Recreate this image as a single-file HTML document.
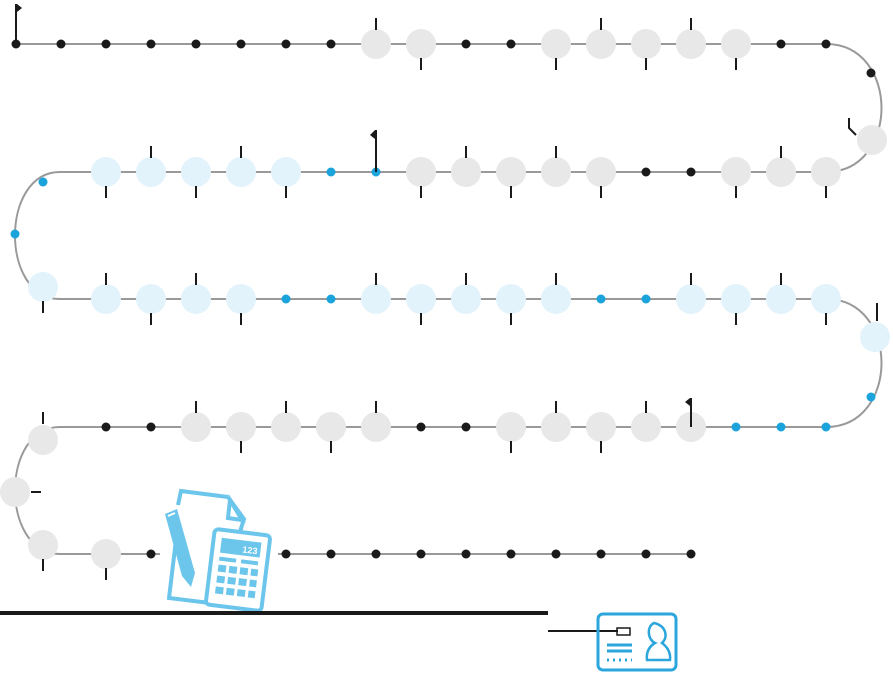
<!DOCTYPE html>
<html><head><style>body{margin:0;background:#fff}svg{display:block}</style></head><body>
<svg width="893" height="673" viewBox="0 0 893 673" xmlns="http://www.w3.org/2000/svg">
<g fill="none" stroke="#999" stroke-width="2">
<path d="M16,44 H826 C900,44 900,172 826,172 H60 C0,172 0,299 60,299 H826 C900,299 900,427 826,427 H60 C0,427 0,554 60,554 H691"/>
</g>
<g id="n"></g>
<g stroke="#1a1a1a" stroke-width="2" fill="none">
<path d="M16,4V44M376,130V172M691,398V427M849,118V128L856,135"/>
</g>
<g fill="#1a1a1a">
<path d="M17,4L22,8L17,12Z M375,130L370,135L375,139Z M690,398L685,402L690,406Z"/>
</g>
<script>
const g=document.getElementById('n');const NS='http://www.w3.org/2000/svg';
const G='#e8e8e8',L='#e3f3fb',B='#1ba3dc',K='#1a1a1a';
function c(x,y,r,f){const e=document.createElementNS(NS,'circle');e.setAttribute('cx',x);e.setAttribute('cy',y);e.setAttribute('r',r);e.setAttribute('fill',f);g.appendChild(e);}
function t(x,y1,y2){const e=document.createElementNS(NS,'line');e.setAttribute('x1',x);e.setAttribute('x2',x);e.setAttribute('y1',y1);e.setAttribute('y2',y2);e.setAttribute('stroke',K);e.setAttribute('stroke-width',2);g.appendChild(e);}
function th(x1,x2,y){const e=document.createElementNS(NS,'line');e.setAttribute('x1',x1);e.setAttribute('x2',x2);e.setAttribute('y1',y);e.setAttribute('y2',y);e.setAttribute('stroke',K);e.setAttribute('stroke-width',2);g.appendChild(e);}
function row(y,items){items.forEach(([x,k,tk])=>{
 if(k==='d')c(x,y,4.5,K);else if(k==='b')c(x,y,4.5,B);else c(x,y,15,k==='g'?G:L);
 if(tk==='u')t(x,y-26,y-14);if(tk==='D')t(x,y+14,y+26);});}
const X=i=>16+45*i;
row(44,[[X(0),'d'],[X(1),'d'],[X(2),'d'],[X(3),'d'],[X(4),'d'],[X(5),'d'],[X(6),'d'],[X(7),'d'],[X(8),'g','u'],[X(9),'g','D'],[X(10),'d'],[X(11),'d'],[X(12),'g','D'],[X(13),'g','u'],[X(14),'g','D'],[X(15),'g','u'],[X(16),'g','D'],[X(17),'d'],[X(18),'d']]);
c(871,73,4.5,K);c(872,140,15,G);
row(172,[[X(18),'g','D'],[X(17),'g','u'],[X(16),'g','D'],[X(15),'d'],[X(14),'d'],[X(13),'g','D'],[X(12),'g','u'],[X(11),'g','D'],[X(10),'g','u'],[X(9),'g','D'],[X(8),'b'],[X(7),'b'],[X(6),'l','D'],[X(5),'l','u'],[X(4),'l','D'],[X(3),'l','u'],[X(2),'l','D']]);
c(43,182,4.5,B);c(15,234,4.5,B);c(43,287,15,L);t(43,301,313);
row(299,[[X(2),'l','u'],[X(3),'l','D'],[X(4),'l','u'],[X(5),'l','D'],[X(6),'b'],[X(7),'b'],[X(8),'l','u'],[X(9),'l','D'],[X(10),'l','u'],[X(11),'l','D'],[X(12),'l','u'],[X(13),'b'],[X(14),'b'],[X(15),'l','u'],[X(16),'l','D'],[X(17),'l','u'],[X(18),'l','D']]);
c(875,337,15,L);t(877,303,321);c(871,397,4.5,B);
row(427,[[X(18),'b'],[X(17),'b'],[X(16),'b'],[X(15),'g'],[X(14),'g','u'],[X(13),'g','D'],[X(12),'g','u'],[X(11),'g','D'],[X(10),'d'],[X(9),'d'],[X(8),'g','u'],[X(7),'g','D'],[X(6),'g','u'],[X(5),'g','D'],[X(4),'g','u'],[X(3),'d'],[X(2),'d']]);
c(43,440,15,G);t(43,412,424);c(15,492,15,G);th(31,41,492);c(43,545,15,G);t(43,559,571);
row(554,[[X(2),'g','D'],[X(3),'d'],[X(6),'d'],[X(7),'d'],[X(8),'d'],[X(9),'d'],[X(10),'d'],[X(11),'d'],[X(12),'d'],[X(13),'d'],[X(14),'d'],[X(15),'d']]);
</script>
<g>
<rect x="160" y="485" width="118" height="125" fill="#fff"/>
<path d="M228,497 L181,491 L178,505 M176,540 L169,598 L210,603" fill="none" stroke="#6cc6ec" stroke-width="4"/>
<path d="M228,497 L244,519 L239,535" fill="none" stroke="#6cc6ec" stroke-width="4"/>
<path d="M230,500 L228,518 L242,520 Z" fill="#fff" stroke="#6cc6ec" stroke-width="4"/>
<path d="M165,514 L177,509 L195,573 L191,587 L182,576 Z" fill="#6cc6ec"/>
<path d="M168,516 L175,513" stroke="#fff" stroke-width="2"/>
<g transform="rotate(7 238 570)">
<rect x="210" y="532" width="56" height="76" rx="4" fill="#fff" stroke="#6cc6ec" stroke-width="4"/>
<rect x="218" y="540" width="40" height="15" fill="#6cc6ec"/>
<text x="255" y="552" font-family="Liberation Sans,sans-serif" font-size="9" font-weight="bold" fill="#fff" text-anchor="end">123</text>
<g fill="#6cc6ec">
<rect x="218" y="559" width="17" height="4"/><rect x="240" y="559" width="17" height="4"/>
<rect x="218" y="567" width="8" height="7"/><rect x="229" y="567" width="8" height="7"/><rect x="240" y="567" width="8" height="7"/><rect x="251" y="567" width="7" height="7"/>
<rect x="218" y="578" width="8" height="7"/><rect x="229" y="578" width="8" height="7"/><rect x="240" y="578" width="8" height="7"/><rect x="251" y="578" width="7" height="7"/>
<rect x="218" y="589" width="8" height="7"/><rect x="229" y="589" width="8" height="7"/><rect x="240" y="589" width="8" height="7"/><rect x="251" y="589" width="7" height="7"/>
</g></g>
</g>
<line x1="0" y1="613" x2="548" y2="613" stroke="#1a1a1a" stroke-width="4"/>
<line x1="548" y1="631" x2="618" y2="631" stroke="#1a1a1a" stroke-width="2"/>
<g fill="none" stroke="#2aa6dc" stroke-width="3">
<rect x="598" y="614" width="78" height="56" rx="5"/>
<path d="M607,645H632M607,651H632"/>
<path d="M607,660H632" stroke-dasharray="2,4"/>
<path d="M654,623 C646,627 648,640 655,643 C650,646 646,651 647,660 H670 C671,651 666,646 662,643 C668,638 667,626 654,623Z" stroke-width="2.5"/>
</g>
<rect x="617" y="628" width="13" height="7" fill="none" stroke="#1a1a1a" stroke-width="1.5"/>
</svg>
</body></html>
